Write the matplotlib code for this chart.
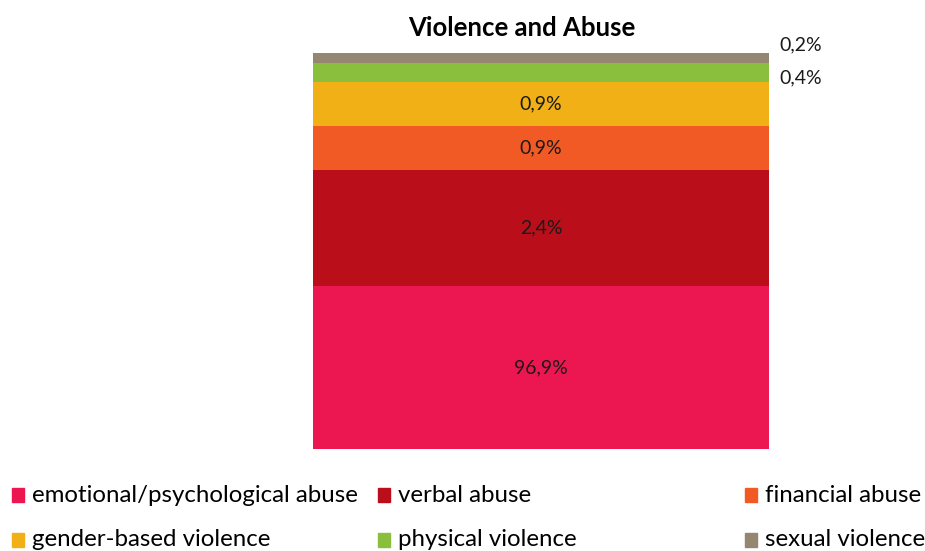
import matplotlib
matplotlib.use("Agg")
import matplotlib.pyplot as plt
from matplotlib.patches import Rectangle

categories = ["emotional/psychological abuse", "verbal abuse", "financial abuse",
              "gender-based violence", "physical violence", "sexual violence"]
# segment heights as drawn (share of bar height)
bar_shares = [41.2, 29.3, 11.1, 11.1, 4.8, 2.5]
value_labels = ["96,9%", "2,4%", "0,9%", "0,9%", "0,4%", "0,2%"]
colors = ["#EC1651", "#BA0F1A", "#F15A24", "#F0B016", "#8ABF3E", "#958672"]

plt.rcParams["font.family"] = ["Lato", "DejaVu Sans"]

fig = plt.figure(figsize=(9.25, 5.51), dpi=100)
ax = fig.add_axes([313/925, 102/551, 456/925, 396/551])

# small segments get their label outside on the right
outside_shift = {"0,4%": -1.4, "0,2%": 3.3}

bottom = 0
for cat, h, lab, c in zip(categories, bar_shares, value_labels, colors):
    ax.bar(0, h, bottom=bottom, width=1, color=c, label=cat)
    if lab in outside_shift:
        ax.text(0.522, bottom + h/2 + outside_shift[lab], lab, ha="left", va="center",
                fontsize=14, color="#1a1a1a")
    else:
        ax.text(0, bottom + h/2, lab, ha="center", va="center", fontsize=14, color="#1a1a1a")
    bottom += h

ax.set_xlim(-0.5, 0.5)
ax.set_ylim(0, bottom)
ax.axis("off")

fig.text(522/925, 1 - 28/551, "Violence and Abuse", ha="center", va="center",
         fontsize=18.5, fontweight="bold")

# legend, two rows of three
col_x = [12, 378, 745]
row_y = [495, 540]
for i, (cat, c) in enumerate(zip(categories, colors)):
    x = col_x[i % 3]
    y = row_y[i // 3]
    fig.patches.append(Rectangle((x/925, 1 - (y+7)/551), 12/925, 14/551,
                                 transform=fig.transFigure, color=c))
    fig.text((x + 20)/925, 1 - y/551, cat, ha="left", va="center", fontsize=17.3)

fig.savefig("out.png", dpi=100)
